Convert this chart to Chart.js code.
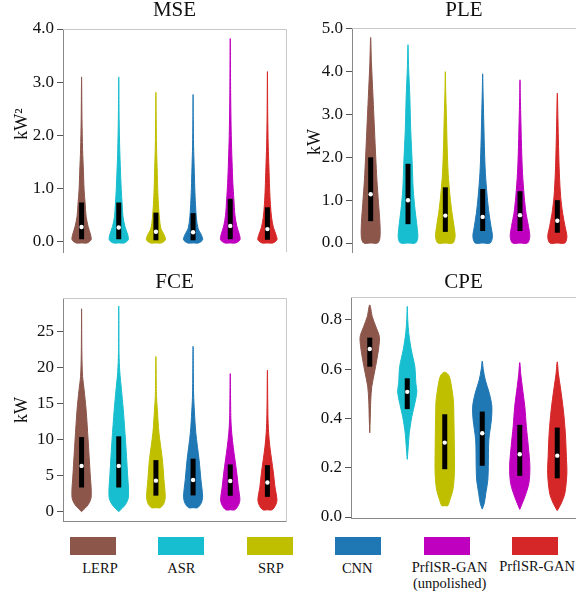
<!DOCTYPE html>
<html>
<head>
<meta charset="utf-8">
<script src="https://cdn.jsdelivr.net/npm/chart.js@4.4.1/dist/chart.umd.min.js"></script>
<style>
  body { margin: 0; width: 576px; height: 591px; overflow: hidden; background: #fff; position: relative; font-family: "Liberation Serif", "Times New Roman", serif; }
  canvas { position: absolute; }
  .sw { position: absolute; top: 537px; width: 46px; height: 18px; }
  .lb { position: absolute; width: 110px; text-align: center; font-size: 14.5px; line-height: 16px; color: #111; white-space: pre-line; }
</style>
</head>
<body>
<canvas id="mse" width="290" height="260" style="left:0;top:0"></canvas>
<canvas id="ple" width="290" height="260" style="left:290px;top:0"></canvas>
<canvas id="fce" width="290" height="270" style="left:0;top:260px"></canvas>
<canvas id="cpe" width="290" height="270" style="left:290px;top:260px"></canvas>
<div id="legend"></div>
<script>
/* ================= DATA ================= */
const methods = ["LERP", "ASR", "SRP", "CNN", "PrflSR-GAN\n(unpolished)", "PrflSR-GAN"];
const colors = ["#8c564b", "#17becf", "#bfbf00", "#1f77b4", "#bf00bf", "#d62728"];

// violin outlines: [value, relative width] from bottom to top

/* MSE (kW^2) */
const mseTicks = [0, 1, 2, 3, 4];
const mseQ1 = [0.05, 0.05, 0.03, 0.03, 0.05, 0.04];
const mseMed = [0.28, 0.27, 0.19, 0.18, 0.30, 0.24];
const mseQ3 = [0.74, 0.74, 0.55, 0.54, 0.81, 0.65];
const mseShape = [
    [[-0.02, 0.55], [0.04, 0.95], [0.13, 0.9], [0.29, 0.65], [0.48, 0.45], [0.73, 0.35], [0.98, 0.25], [1.35, 0.18], [1.73, 0.1], [2.3, 0.04], [3.10, 0]],
    [[-0.02, 0.55], [0.04, 0.95], [0.13, 0.9], [0.29, 0.62], [0.48, 0.42], [0.73, 0.33], [0.98, 0.25], [1.35, 0.17], [1.73, 0.1], [2.3, 0.04], [3.10, 0]],
    [[-0.02, 0.55], [0.04, 0.95], [0.12, 0.85], [0.25, 0.5], [0.45, 0.35], [0.7, 0.25], [1.0, 0.18], [1.4, 0.12], [1.8, 0.06], [2.3, 0.03], [2.81, 0]],
    [[-0.02, 0.55], [0.04, 0.95], [0.12, 0.85], [0.25, 0.5], [0.45, 0.33], [0.7, 0.24], [1.0, 0.17], [1.4, 0.11], [1.8, 0.05], [2.3, 0.02], [2.77, 0]],
    [[-0.02, 0.55], [0.04, 0.97], [0.13, 0.92], [0.3, 0.65], [0.5, 0.47], [0.8, 0.36], [1.1, 0.26], [1.5, 0.18], [2.0, 0.1], [2.8, 0.04], [3.82, 0]],
    [[-0.02, 0.55], [0.04, 0.95], [0.12, 0.88], [0.27, 0.6], [0.45, 0.42], [0.7, 0.3], [1.0, 0.22], [1.4, 0.15], [1.8, 0.08], [2.4, 0.03], [3.20, 0]]
];

/* PLE (kW) */
const pleTicks = [0, 1, 2, 3, 4, 5];
const pleQ1 = [0.51, 0.44, 0.26, 0.28, 0.28, 0.24];
const pleMed = [1.14, 1.00, 0.64, 0.61, 0.65, 0.52];
const pleQ3 = [2.00, 1.85, 1.30, 1.26, 1.21, 1.00];
const pleShape = [
    [[0.0, 0.7], [0.12, 0.92], [0.46, 0.92], [0.93, 0.78], [1.47, 0.62], [2.02, 0.5], [2.64, 0.38], [3.42, 0.23], [4.2, 0.08], [4.80, 0]],
    [[0.0, 0.75], [0.12, 0.97], [0.38, 0.9], [0.77, 0.7], [1.24, 0.52], [1.86, 0.42], [2.64, 0.27], [3.42, 0.18], [4.1, 0.06], [4.63, 0]],
    [[0.0, 0.75], [0.15, 0.97], [0.38, 0.87], [0.69, 0.67], [1.08, 0.47], [1.63, 0.28], [2.25, 0.18], [3.03, 0.1], [3.5, 0.04], [4.00, 0]],
    [[0.0, 0.75], [0.15, 0.97], [0.38, 0.83], [0.69, 0.63], [1.08, 0.45], [1.63, 0.27], [2.25, 0.17], [3.03, 0.09], [3.5, 0.04], [3.95, 0]],
    [[0.0, 0.75], [0.15, 0.97], [0.38, 0.85], [0.69, 0.6], [1.08, 0.42], [1.63, 0.25], [2.25, 0.15], [3.03, 0.07], [3.4, 0.03], [3.81, 0]],
    [[0.0, 0.75], [0.15, 0.95], [0.38, 0.77], [0.69, 0.53], [1.08, 0.33], [1.63, 0.2], [2.25, 0.12], [2.9, 0.06], [3.50, 0]]
];

/* FCE (kW) */
const fceTicks = [0, 5, 10, 15, 20, 25];
const fceQ1 = [3.4, 3.4, 2.27, 2.3, 2.25, 2.1];
const fceMed = [6.4, 6.4, 4.35, 4.45, 4.3, 4.1];
const fceQ3 = [10.4, 10.5, 7.2, 7.4, 6.6, 6.5];
const fceShape = [
    [[0.05, 0], [1.0, 0.65], [2.1, 0.96], [5.4, 0.85], [10, 0.65], [14.2, 0.45], [17, 0.25], [18.8, 0.1], [22, 0.03], [28.2, 0]],
    [[0.05, 0], [1.0, 0.65], [2.1, 0.97], [5.4, 0.87], [10, 0.67], [14.2, 0.45], [17, 0.27], [19.5, 0.1], [22, 0.03], [28.6, 0]],
    [[0.6, 0.45], [1.2, 0.8], [2.1, 0.93], [4.5, 0.8], [7.2, 0.65], [11, 0.3], [14, 0.15], [16, 0.06], [21.6, 0]],
    [[0.6, 0.45], [1.2, 0.8], [2.1, 0.95], [4.5, 0.78], [7.2, 0.6], [11, 0.27], [14, 0.13], [16.5, 0.05], [23.0, 0]],
    [[0.3, 0.45], [0.9, 0.8], [1.7, 0.96], [3.5, 0.8], [5.4, 0.65], [9, 0.3], [10.9, 0.15], [13, 0.06], [19.2, 0]],
    [[0.3, 0.45], [0.9, 0.8], [1.7, 0.95], [3.5, 0.75], [5.4, 0.6], [9, 0.25], [11, 0.12], [13.5, 0.05], [19.7, 0]]
];

/* CPE */
const cpeTicks = [0, 0.2, 0.4, 0.6, 0.8];
const cpeQ1 = [0.610, 0.438, 0.194, 0.208, 0.167, 0.157];
const cpeMed = [0.682, 0.508, 0.302, 0.340, 0.255, 0.249];
const cpeQ3 = [0.728, 0.563, 0.417, 0.428, 0.374, 0.363];
const cpeShape = [
    [[0.342, 0], [0.40, 0.05], [0.475, 0.1], [0.529, 0.2], [0.584, 0.45], [0.638, 0.7], [0.692, 0.9], [0.732, 0.95], [0.773, 0.6], [0.813, 0.25], [0.861, 0]],
    [[0.234, 0], [0.286, 0.1], [0.34, 0.2], [0.407, 0.45], [0.462, 0.75], [0.509, 0.95], [0.543, 0.85], [0.610, 0.75], [0.678, 0.4], [0.746, 0.15], [0.80, 0.05], [0.855, 0]],
    [[0.046, 0.3], [0.069, 0.5], [0.11, 0.8], [0.177, 0.95], [0.272, 0.95], [0.407, 0.9], [0.475, 0.85], [0.556, 0.55], [0.578, 0.35], [0.588, 0]],
    [[0.032, 0], [0.056, 0.2], [0.096, 0.35], [0.15, 0.55], [0.204, 0.6], [0.313, 0.65], [0.394, 0.9], [0.448, 0.95], [0.502, 0.7], [0.556, 0.3], [0.60, 0.1], [0.633, 0]],
    [[0.031, 0], [0.082, 0.5], [0.137, 0.9], [0.204, 1.0], [0.286, 0.85], [0.367, 0.65], [0.448, 0.5], [0.529, 0.25], [0.58, 0.1], [0.627, 0]],
    [[0.026, 0], [0.056, 0.4], [0.096, 0.75], [0.177, 0.95], [0.245, 0.9], [0.340, 0.8], [0.435, 0.6], [0.529, 0.3], [0.58, 0.12], [0.630, 0]]
];

/* ================= STYLE ================= */
const SERIF = '"Liberation Serif", "Times New Roman", serif';
const HALF = 0.27;          // x units for a relative width of 1
const TEXT = "#111";

/* ================= PLUGINS ================= */
const frame = {
    id: "frame",
    beforeDatasetsDraw(chart, args, opts) {
        const { ctx, chartArea: { left, top, right, bottom } } = chart;
        ctx.save();
        ctx.lineWidth = 1;
        ctx.strokeStyle = "#c8c8c8";
        ctx.beginPath();
        ctx.moveTo(left, top + 0.5);
        ctx.lineTo(right + 0.5, top + 0.5);
        ctx.lineTo(right + 0.5, bottom);
        ctx.stroke();
        if (opts.bottom) {
            ctx.strokeStyle = "#888";
            ctx.beginPath();
            ctx.moveTo(left, bottom + 0.5);
            ctx.lineTo(right + 0.5, bottom + 0.5);
            ctx.stroke();
        }
        ctx.restore();
    }
};

const unitLabel = {
    id: "unitLabel",
    afterDraw(chart, args, opts) {
        if (!opts.text) return;
        const { ctx, chartArea } = chart;
        ctx.save();
        ctx.translate(opts.x, (chartArea.top + chartArea.bottom) / 2 + opts.dy);
        ctx.rotate(-Math.PI / 2);
        ctx.font = "18px " + SERIF;
        ctx.fillStyle = TEXT;
        ctx.textAlign = "center";
        ctx.textBaseline = "alphabetic";
        ctx.fillText(opts.text, 0, 0);
        ctx.restore();
    }
};

Chart.register(frame, unitLabel);

/* ================= VIOLIN OUTLINE ================= */
function outline(knots, pos) {
    const right = knots.map(([v, w]) => ({ x: pos + w * HALF, y: v }));
    const left = knots.slice().reverse().map(([v, w]) => ({ x: pos - w * HALF, y: v }));
    const pts = right.concat(left.slice(1));
    if (knots[0][1] > 0) {
        pts.unshift({ x: pos, y: knots[0][0] });
        pts.push({ x: pos, y: knots[0][0] });
    }
    return pts;
}

/* ================= PANEL ================= */
function makePanel(id, cfg) {
    const datasets = [];

    datasets.push({
        type: "scatter",
        data: cfg.med.map((v, i) => ({ x: i + 1, y: v })),
        pointRadius: 2.2,
        pointBackgroundColor: "#fff",
        pointBorderWidth: 0,
        order: 0
    });

    cfg.q1.forEach((v, i) => {
        datasets.push({
            type: "line",
            data: [{ x: i + 1, y: v }, { x: i + 1, y: cfg.q3[i] }],
            borderColor: "#000",
            borderWidth: 5,
            borderCapStyle: "butt",
            pointRadius: 0,
            fill: false,
            order: 1
        });
    });

    cfg.shape.forEach((knots, i) => {
        datasets.push({
            type: "line",
            data: outline(knots, i + 1),
            borderColor: colors[i],
            backgroundColor: colors[i],
            borderWidth: 1,
            fill: "shape",
            tension: 0.3,
            pointRadius: 0,
            order: 2
        });
    });

    return new Chart(document.getElementById(id), {
        type: "line",
        data: { datasets },
        options: {
            responsive: false,
            animation: false,
            events: [],
            layout: { padding: cfg.pad },
            plugins: {
                legend: { display: false },
                tooltip: { enabled: false },
                title: {
                    display: true,
                    text: cfg.title,
                    color: TEXT,
                    font: { family: SERIF, size: 21, weight: "normal", lineHeight: 1 },
                    padding: cfg.titlePad,
                    fullSize: false
                },
                frame: { bottom: cfg.bottomLine },
                unitLabel: { text: cfg.unit, x: cfg.unitX, dy: cfg.unitDy }
            },
            scales: {
                x: { type: "linear", min: 0.5, max: 6.5, display: false },
                y: {
                    type: "linear",
                    min: cfg.yMin,
                    max: cfg.yMax,
                    afterBuildTicks: s => { s.ticks = cfg.ticks.map(v => ({ value: v })); },
                    afterFit: s => { s.width = cfg.axisWidth; s.paddingTop = 0; s.paddingBottom = 0; },
                    ticks: {
                        font: { family: SERIF, size: 17 },
                        color: TEXT,
                        padding: 3,
                        autoSkip: false,
                        callback: v => Number(v).toFixed(cfg.digits)
                    },
                    grid: { drawOnChartArea: false, drawTicks: true, tickLength: 6, color: "#555" },
                    border: { display: true, color: "#888" }
                }
            }
        }
    });
}

makePanel("mse", {
    title: "MSE", unit: "kW\u00b2", unitX: 26.5, unitDy: -16.5,
    yMin: -0.19, yMax: 4.0, ticks: mseTicks, digits: 1,
    shape: mseShape, q1: mseQ1, med: mseMed, q3: mseQ3,
    axisWidth: 63, pad: { left: 0, right: 3, top: 0, bottom: 8 },
    titlePad: { top: 0, bottom: 8 }, bottomLine: false
});

makePanel("ple", {
    title: "PLE", unit: "kW", unitX: 30, unitDy: 2,
    yMin: -0.21, yMax: 5.02, ticks: pleTicks, digits: 1,
    shape: pleShape, q1: pleQ1, med: pleMed, q3: pleQ3,
    axisWidth: 62, pad: { left: 0, right: 3, top: 0, bottom: 8 },
    titlePad: { top: 0, bottom: 7 }, bottomLine: false
});

makePanel("fce", {
    title: "FCE", unit: "kW", unitX: 26.5, unitDy: 0.5,
    yMin: -1.25, yMax: 29.7, ticks: fceTicks, digits: 0,
    shape: fceShape, q1: fceQ1, med: fceMed, q3: fceQ3,
    axisWidth: 63, pad: { left: 0, right: 3, top: 0, bottom: 9 },
    titlePad: { top: 12, bottom: 5 }, bottomLine: true
});

makePanel("cpe", {
    title: "CPE", unit: "", unitX: 0, unitDy: 0,
    yMin: -0.004, yMax: 0.893, ticks: cpeTicks, digits: 1,
    shape: cpeShape, q1: cpeQ1, med: cpeMed, q3: cpeQ3,
    axisWidth: 61, pad: { left: 0, right: 3, top: 0, bottom: 12 },
    titlePad: { top: 12, bottom: 4 }, bottomLine: true
});

/* ================= LEGEND ================= */
const legendShift = [7, 0, 1, -1, 3, 2];
const legendTop = [560, 560, 560, 560, 559, 558];
const legendBox = document.getElementById("legend");
methods.forEach((m, i) => {
    const left = 70 + 88.4 * i;
    const sw = document.createElement("div");
    sw.className = "sw";
    sw.style.left = left + "px";
    sw.style.background = colors[i];
    legendBox.appendChild(sw);

    const lb = document.createElement("div");
    lb.className = "lb";
    lb.textContent = m;
    lb.style.left = (left + 23 - 55 + legendShift[i]) + "px";
    lb.style.top = legendTop[i] + "px";
    legendBox.appendChild(lb);
});
</script>
</body>
</html>
